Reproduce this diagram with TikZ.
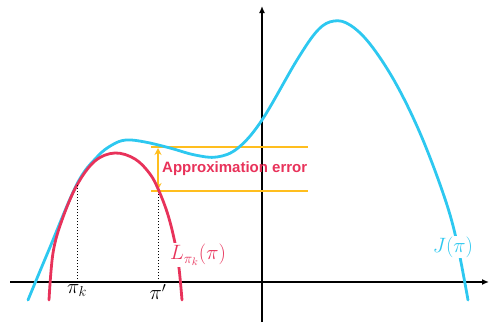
\documentclass[tikz,border=0pt]{standalone}
\usepackage{fontspec}
\newfontfamily\labelfont{Liberation Sans}
\usetikzlibrary{arrows.meta}
\definecolor{jblue}{RGB}{45,200,240}
\definecolor{lred}{RGB}{232,50,90}
\definecolor{errorange}{RGB}{255,190,30}
\tikzset{
  axisline/.style={line width=2.6pt, black, -{Latex[length=7pt,width=6pt]}},
  jcurve/.style={line width=2.8pt, jblue, line cap=round},
  lcurve/.style={line width=2.8pt, lred, line cap=round},
  guide/.style={line width=0.6pt, black, dash pattern=on 1.5pt off 1.5pt},
  errline/.style={line width=2.3pt, errorange},
  mathlabel/.style={font=\fontsize{21}{25}\selectfont, inner sep=1pt},
}
\begin{document}
\begin{tikzpicture}[x=1pt,y=-1pt]
\useasboundingbox (0,0) rectangle (490,324);
% axes
\coordinate (xl) at (10,282);
\coordinate (xr) at (489,282);
\coordinate (yb) at (262,322);
\coordinate (yt) at (262,6);
\draw[axisline] (xl) -- (xr);
\draw[axisline] (yb) -- (yt);
% orange error lines
\coordinate (e1a) at (151,147);
\coordinate (e1b) at (308,147);
\coordinate (e2a) at (151,191);
\coordinate (e2b) at (308,191);
\draw[errline] (e1a) -- (e1b);
\draw[errline] (e2a) -- (e2b);
\coordinate (ea) at (158,148);
\coordinate (eb) at (158,190);
\draw[errline, line width=1.8pt, {Stealth[length=7pt,width=7pt]}-{Stealth[length=7pt,width=7pt]}] (ea) -- (eb);
% J curve
\draw[jcurve] plot[smooth, tension=0.6] coordinates {
 (28,300) (48,252) (77,184) (97,157) (112,145) (126,140) (145,142) (170,148)
 (195,155) (217,157) (238,148) (262,120) (297,60) (318,30)
 (334,21) (350,25) (370,44) (395,82) (420,133) (443,193) (456,238) (468,300)};
% L curve
\draw[lcurve] plot[smooth, tension=0.6] coordinates {
 (49,300) (53,253) (62,220) (77,185) (95,161) (115,153) (135,159) (150,174)
 (159,191) (168,215) (175,243) (179,268) (182,300)};
% guides
\coordinate (pk) at (77,282);
\coordinate (pkt) at (77,185);
\coordinate (pp) at (158,282);
\coordinate (ppt) at (158,192);
\draw[guide] (pk) -- (pkt);
\draw[guide] (pp) -- (ppt);
% labels
\node[mathlabel, anchor=north] (lpk) at (77,283) {$\pi_k$};
\node[mathlabel, anchor=north] (lpp) at (158,283) {$\pi'$};
\node[mathlabel, fill=white, text=lred] (ll) at (198,255) {$L_{\pi_k}(\pi)$};
\node[mathlabel, fill=white, text=jblue] (lj) at (453,247) {$J(\pi)$};
\node[font=\labelfont\bfseries\fontsize{15}{18}\selectfont, text=lred, anchor=west, inner sep=0pt] (err) at (162,169) {Approximation error};
\end{tikzpicture}
\end{document}
